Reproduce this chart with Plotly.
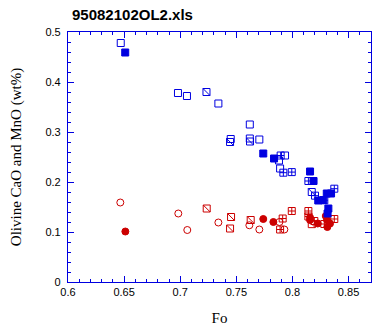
import plotly.graph_objects as go

# Blue (CaO) series
cao_open_x = [0.647, 0.698, 0.706, 0.734, 0.762, 0.745, 0.762, 0.7705, 0.7934, 0.788, 0.789]
cao_open_y = [0.478, 0.378, 0.372, 0.357, 0.315, 0.286, 0.287, 0.285, 0.253, 0.243, 0.227]
cao_fill_x = [0.651, 0.774, 0.7836, 0.8157, 0.8188, 0.823, 0.8275, 0.8306, 0.8344, 0.832, 0.8313]
cao_fill_y = [0.459, 0.257, 0.247, 0.221, 0.202, 0.163, 0.164, 0.177, 0.177, 0.147, 0.137]
cao_cross_x = [0.7895, 0.7919, 0.7994, 0.8142, 0.8201, 0.8284, 0.8373]
cao_cross_y = [0.253, 0.2186, 0.2198, 0.202, 0.1727, 0.1634, 0.1866]
cao_slash_x = [0.7234, 0.7444, 0.7622, 0.8172]
cao_slash_y = [0.380, 0.280, 0.281, 0.180]

# Red (MnO) series
mno_open_x = [0.6466, 0.6983, 0.7063, 0.734, 0.7616, 0.7705, 0.7884, 0.7928]
mno_open_y = [0.159, 0.137, 0.104, 0.119, 0.1135, 0.105, 0.120, 0.105]
mno_fill_x = [0.6511, 0.774, 0.783, 0.8157, 0.8157, 0.8225, 0.8297, 0.8311, 0.8335, 0.8308]
mno_fill_y = [0.101, 0.126, 0.120, 0.129, 0.124, 0.117, 0.132, 0.110, 0.117, 0.124]
mno_cross_x = [0.7913, 0.789, 0.7994, 0.8142, 0.8142, 0.8195, 0.8284, 0.8373]
mno_cross_y = [0.127, 0.105, 0.142, 0.142, 0.131, 0.122, 0.116, 0.126]
mno_slash_x = [0.7236, 0.7453, 0.7444, 0.7628, 0.8172]
mno_slash_y = [0.147, 0.130, 0.107, 0.124, 0.1157]

BLUE = "#0000E0"
RED = "#CC0000"
SZ = 7

fig = go.Figure()

def add(x, y, symbol, color, size=SZ, lw=1):
    fig.add_trace(go.Scatter(
        x=x, y=y, mode="markers", hoverinfo="skip", showlegend=False,
        marker=dict(symbol=symbol, size=size, color=color,
                    line=dict(color=color, width=lw))))

# red first (drawn under blue)
add(mno_open_x, mno_open_y, "circle-open", RED)
add(mno_slash_x, mno_slash_y, "square-open", RED)
add(mno_slash_x, mno_slash_y, "line-nw", RED)
add(mno_cross_x, mno_cross_y, "square-cross-open", RED)
add(mno_fill_x, mno_fill_y, "circle", RED)

add(cao_open_x, cao_open_y, "square-open", BLUE)
add(cao_slash_x, cao_slash_y, "square-open", BLUE)
add(cao_slash_x, cao_slash_y, "line-nw", BLUE)
add(cao_cross_x, cao_cross_y, "square-cross-open", BLUE)
add(cao_fill_x, cao_fill_y, "square", BLUE)

axis_common = dict(
    showline=True, linecolor=BLUE, linewidth=1.2, mirror="allticks",
    ticks="inside", tickcolor=BLUE, tickwidth=1.2, ticklen=6,
    showgrid=False, zeroline=False, automargin=False,
    tickfont=dict(family="Liberation Sans, Arial", size=11, color="black"),
)

fig.update_xaxes(
    range=[0.6, 0.87], tick0=0.6, dtick=0.05,
    minor=dict(dtick=0.01, ticks="inside", ticklen=3, tickcolor=BLUE, tickwidth=1.2, showgrid=False),
    title=dict(text="Fo", font=dict(family="Liberation Serif, Times New Roman", size=15, color="black"), standoff=18),
    **axis_common)
fig.update_yaxes(
    range=[0, 0.5], tick0=0, dtick=0.1,
    minor=dict(dtick=0.02, ticks="inside", ticklen=3, tickcolor=BLUE, tickwidth=1.2, showgrid=False),
    ticklabelstandoff=4,
    title=dict(text="Olivine CaO and MnO (wt%)", font=dict(family="Liberation Serif, Times New Roman", size=15, color="black"), standoff=20),
    **axis_common)

fig.update_layout(
    width=389, height=326,
    margin=dict(l=68, r=18, t=32, b=44),
    paper_bgcolor="white", plot_bgcolor="white",
    title=dict(text="<b>95082102OL2.xls</b>", x=72/389, xanchor="left",
               y=1-15/326, yanchor="middle", yref="container",
               font=dict(family="Liberation Sans, Arial", size=15, color="black")),
)

fig.write_html("out.html")
